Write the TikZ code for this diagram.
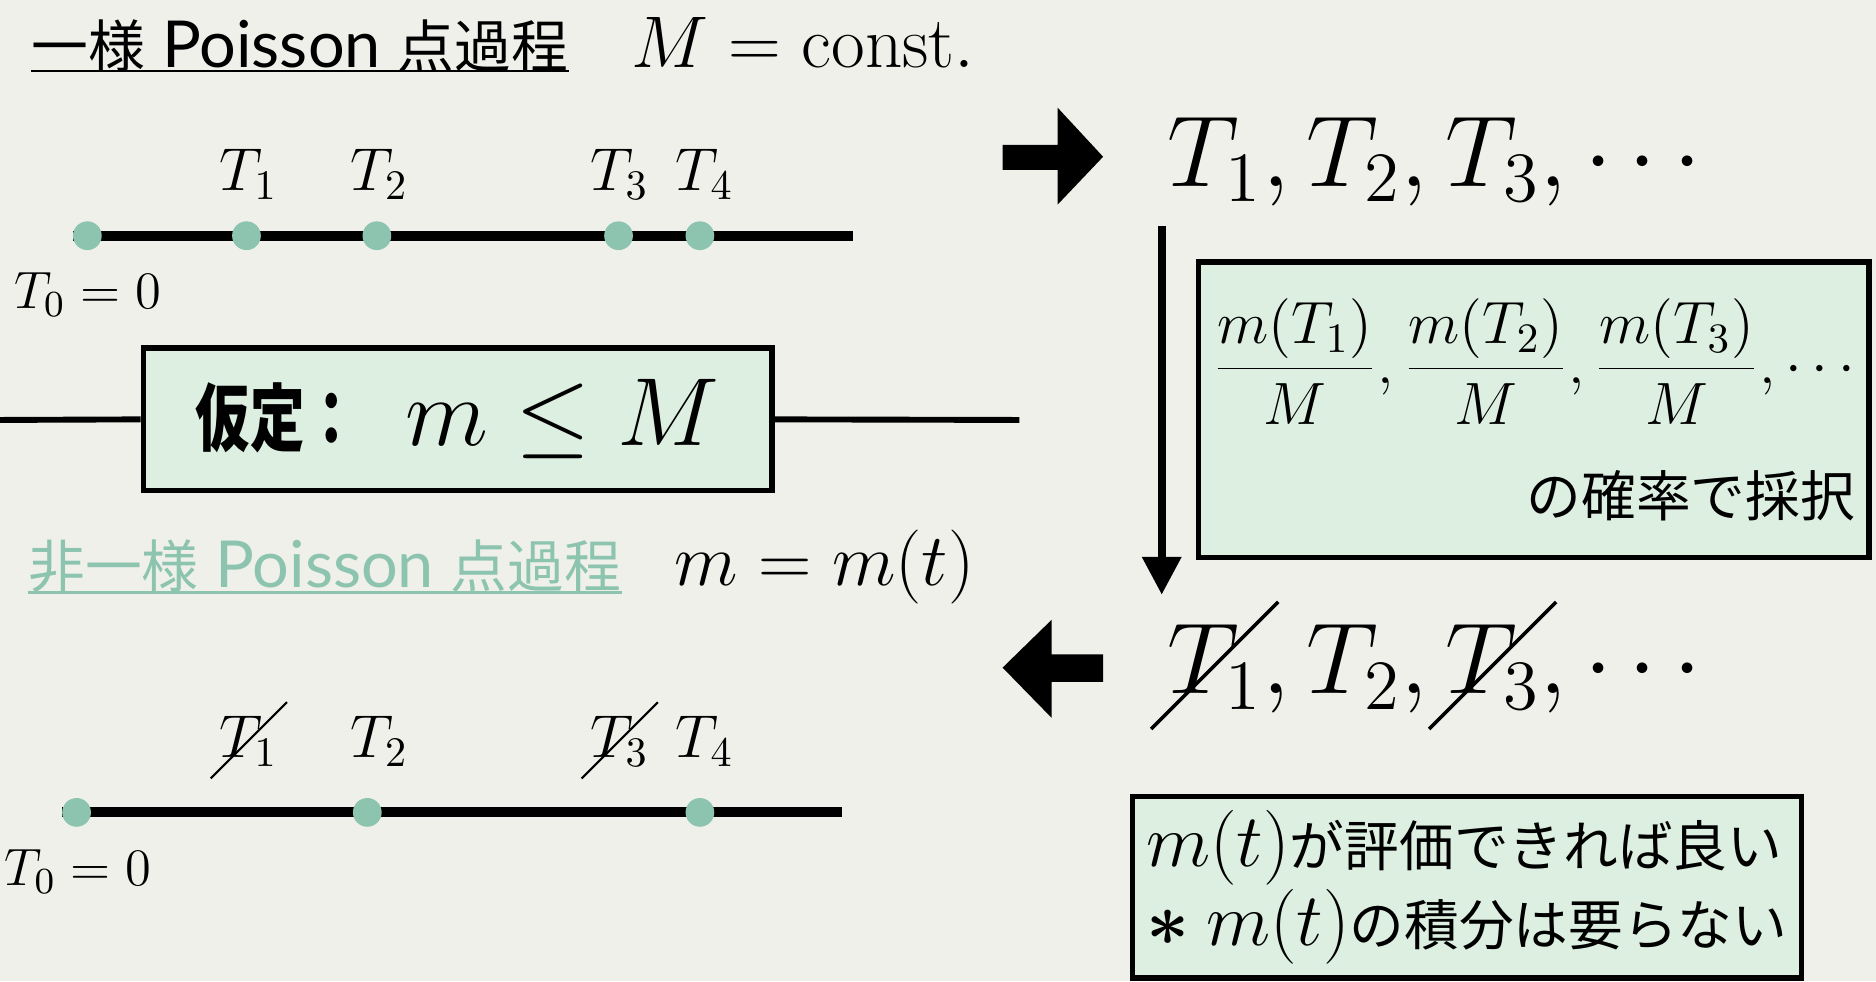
\RequirePackage{fix-cm}
\documentclass[tikz,border=0pt]{standalone}
\usepackage{fontspec}
\usepackage{graphicx}
\usetikzlibrary{positioning, arrows.meta}
\newfontfamily\jp{Noto Sans CJK JP}
\newfontfamily\lat{Lato}
\definecolor{paper}{HTML}{F0F0EB}
\definecolor{boxgreen}{HTML}{DCEFE1}
\definecolor{dotgreen}{HTML}{8CC4AF}
% struck-out time (slash through the symbol)
\newcommand{\strk}[1]{\ooalign{$#1$\cr\hidewidth\smash{\raisebox{-0.36em}{\rotatebox{45}{\rule{1.78em}{0.035em}}}}\hidewidth\cr}}

\begin{document}
\begin{tikzpicture}[x=0.01cm, y=-0.01cm,
  axisline/.style={line width=2.4pt},
  sideline/.style={line width=1.4pt},
  dot/.style={circle, fill=dotgreen, inner sep=0pt, minimum size=0.24cm},
  tlab/.style={inner sep=0pt, anchor=base, font=\fontsize{14.4}{17}\selectfont},
  zerolab/.style={inner sep=0pt, anchor=base west, font=\fontsize{12.5}{15}\selectfont},
  heading/.style={inner sep=0pt, anchor=base west, font=\fontsize{13.5}{16}\jp},
  bigmath/.style={inner sep=0pt, anchor=base west, font=\fontsize{24}{29}\selectfont},
  greenbox/.style={draw, fill=boxgreen, line width=1.3pt}]

  \fill[paper] (0,0) rectangle (1568,820);
  \useasboundingbox (0,0) rectangle (1568,820);

  % homogeneous process
  \node[heading] (uniform) at (26,56)
    {一様\hspace{4pt}{\lat\fontsize{15.4}{18}\selectfont Poisson}\hspace{4pt}点過程};
  \draw[line width=0.5pt] ([yshift=-0.9pt]uniform.base west) -- ([yshift=-0.9pt]uniform.base east);
  \node[inner sep=0pt, anchor=base west, font=\fontsize{17.4}{20}\selectfont] (mconst) at (527,56)
    {$M = \mathrm{const.}$};

  \coordinate (astart) at (61,197);
  \coordinate (aend) at (713,197);
  \draw[axisline] (astart) -- (aend);
  \foreach \x [count=\k from 0] in {73,206,315,517,585}
    \node[dot] (a\k) at (\x,197) {};
  \foreach \x/\i in {208/1,317/2,518/3,589/4}
    \node[tlab] (ta\i) at (\x,159) {$T_{\i}$};
  \node[zerolab] (zeroA) at (11,258) {$T_0 = 0$};

  % assumption
  \node[greenbox, minimum width=5.25cm, minimum height=1.19cm] (assume) at (382.5,350.5)
    {{\fontsize{17.5}{20}\jp\bfseries\scalebox{0.74}[1]{仮定：}}\hspace{11pt}{\fontsize{23}{27}\selectfont$m \le M$}\hspace{9pt}};
  \coordinate (lfar) at (0,351);
  \coordinate (rfar) at (852,351);
  \draw[sideline] (lfar) -- (assume.west);
  \draw[sideline] (assume.east) -- (rfar);

  % inhomogeneous process
  \node[heading, text=dotgreen] (nonuniform) at (23,491)
    {非一様\hspace{4pt}{\lat\fontsize{15.4}{18}\selectfont Poisson}\hspace{4pt}点過程};
  \draw[line width=0.5pt, dotgreen] ([yshift=-1.2pt]nonuniform.base west) -- ([yshift=-1.2pt]nonuniform.base east);
  \node[inner sep=0pt, anchor=base west, font=\fontsize{17.6}{21}\selectfont] (mt) at (563,489)
    {$m = m(t)$};

  \coordinate (bstart) at (52,679);
  \coordinate (bend) at (704,679);
  \draw[axisline] (bstart) -- (bend);
  \foreach \x [count=\k from 0] in {64,307,585}
    \node[dot] (b\k) at (\x,679) {};
  \node[tlab] (tb1) at (208,633) {$\strk{T_1}$};
  \node[tlab] (tb2) at (317,633) {$T_2$};
  \node[tlab] (tb3) at (518,633) {$\strk{T_3}$};
  \node[tlab] (tb4) at (589,633) {$T_4$};
  \node[zerolab] (zeroB) at (3,740) {$T_0 = 0$};

  % right side: thinning
  \fill (838,121) -- (884,121) -- (884,90) -- (922,131) -- (884,171) -- (884,142) -- (838,142) -- cycle;
  \node[bigmath] (tlist) at (975,156) {$T_1, T_2, T_3, \cdots$};

  \node[greenbox, minimum width=5.60cm, minimum height=2.47cm, align=right,
        font=\fontsize{13}{16}\jp] (accept) at (1282,342.5)
    {{\fontsize{14.2}{16}\selectfont$\displaystyle\frac{m(T_1)}{M},\frac{m(T_2)}{M},\frac{m(T_3)}{M},\cdots$}\\[10pt]
     の確率で採択};

  \coordinate (vtop) at (971,189);
  \coordinate (vbot) at (971,497);
  \draw[line width=1.8pt, -{Triangle[width=9pt, length=9pt]}] (vtop) -- (vbot);

  \fill (838,558) -- (879,518) -- (879,547) -- (922,547) -- (922,570) -- (879,570) -- (879,600) -- cycle;
  \node[bigmath] (tkept) at (975,580) {$\strk{T_1}, T_2, \strk{T_3}, \cdots$};

  \node[greenbox, minimum width=5.58cm, minimum height=1.43cm, align=left,
        font=\fontsize{13}{17.5}\jp] (note) at (1226,741.5)
    {{\fontsize{17.8}{17}\selectfont$m(t)$}が評価できれば良い\\
     {\fontsize{17.8}{17}\selectfont{\boldmath$\ast$}\hspace{4pt}$m(t)$}の積分は要らない};
\end{tikzpicture}
\end{document}
